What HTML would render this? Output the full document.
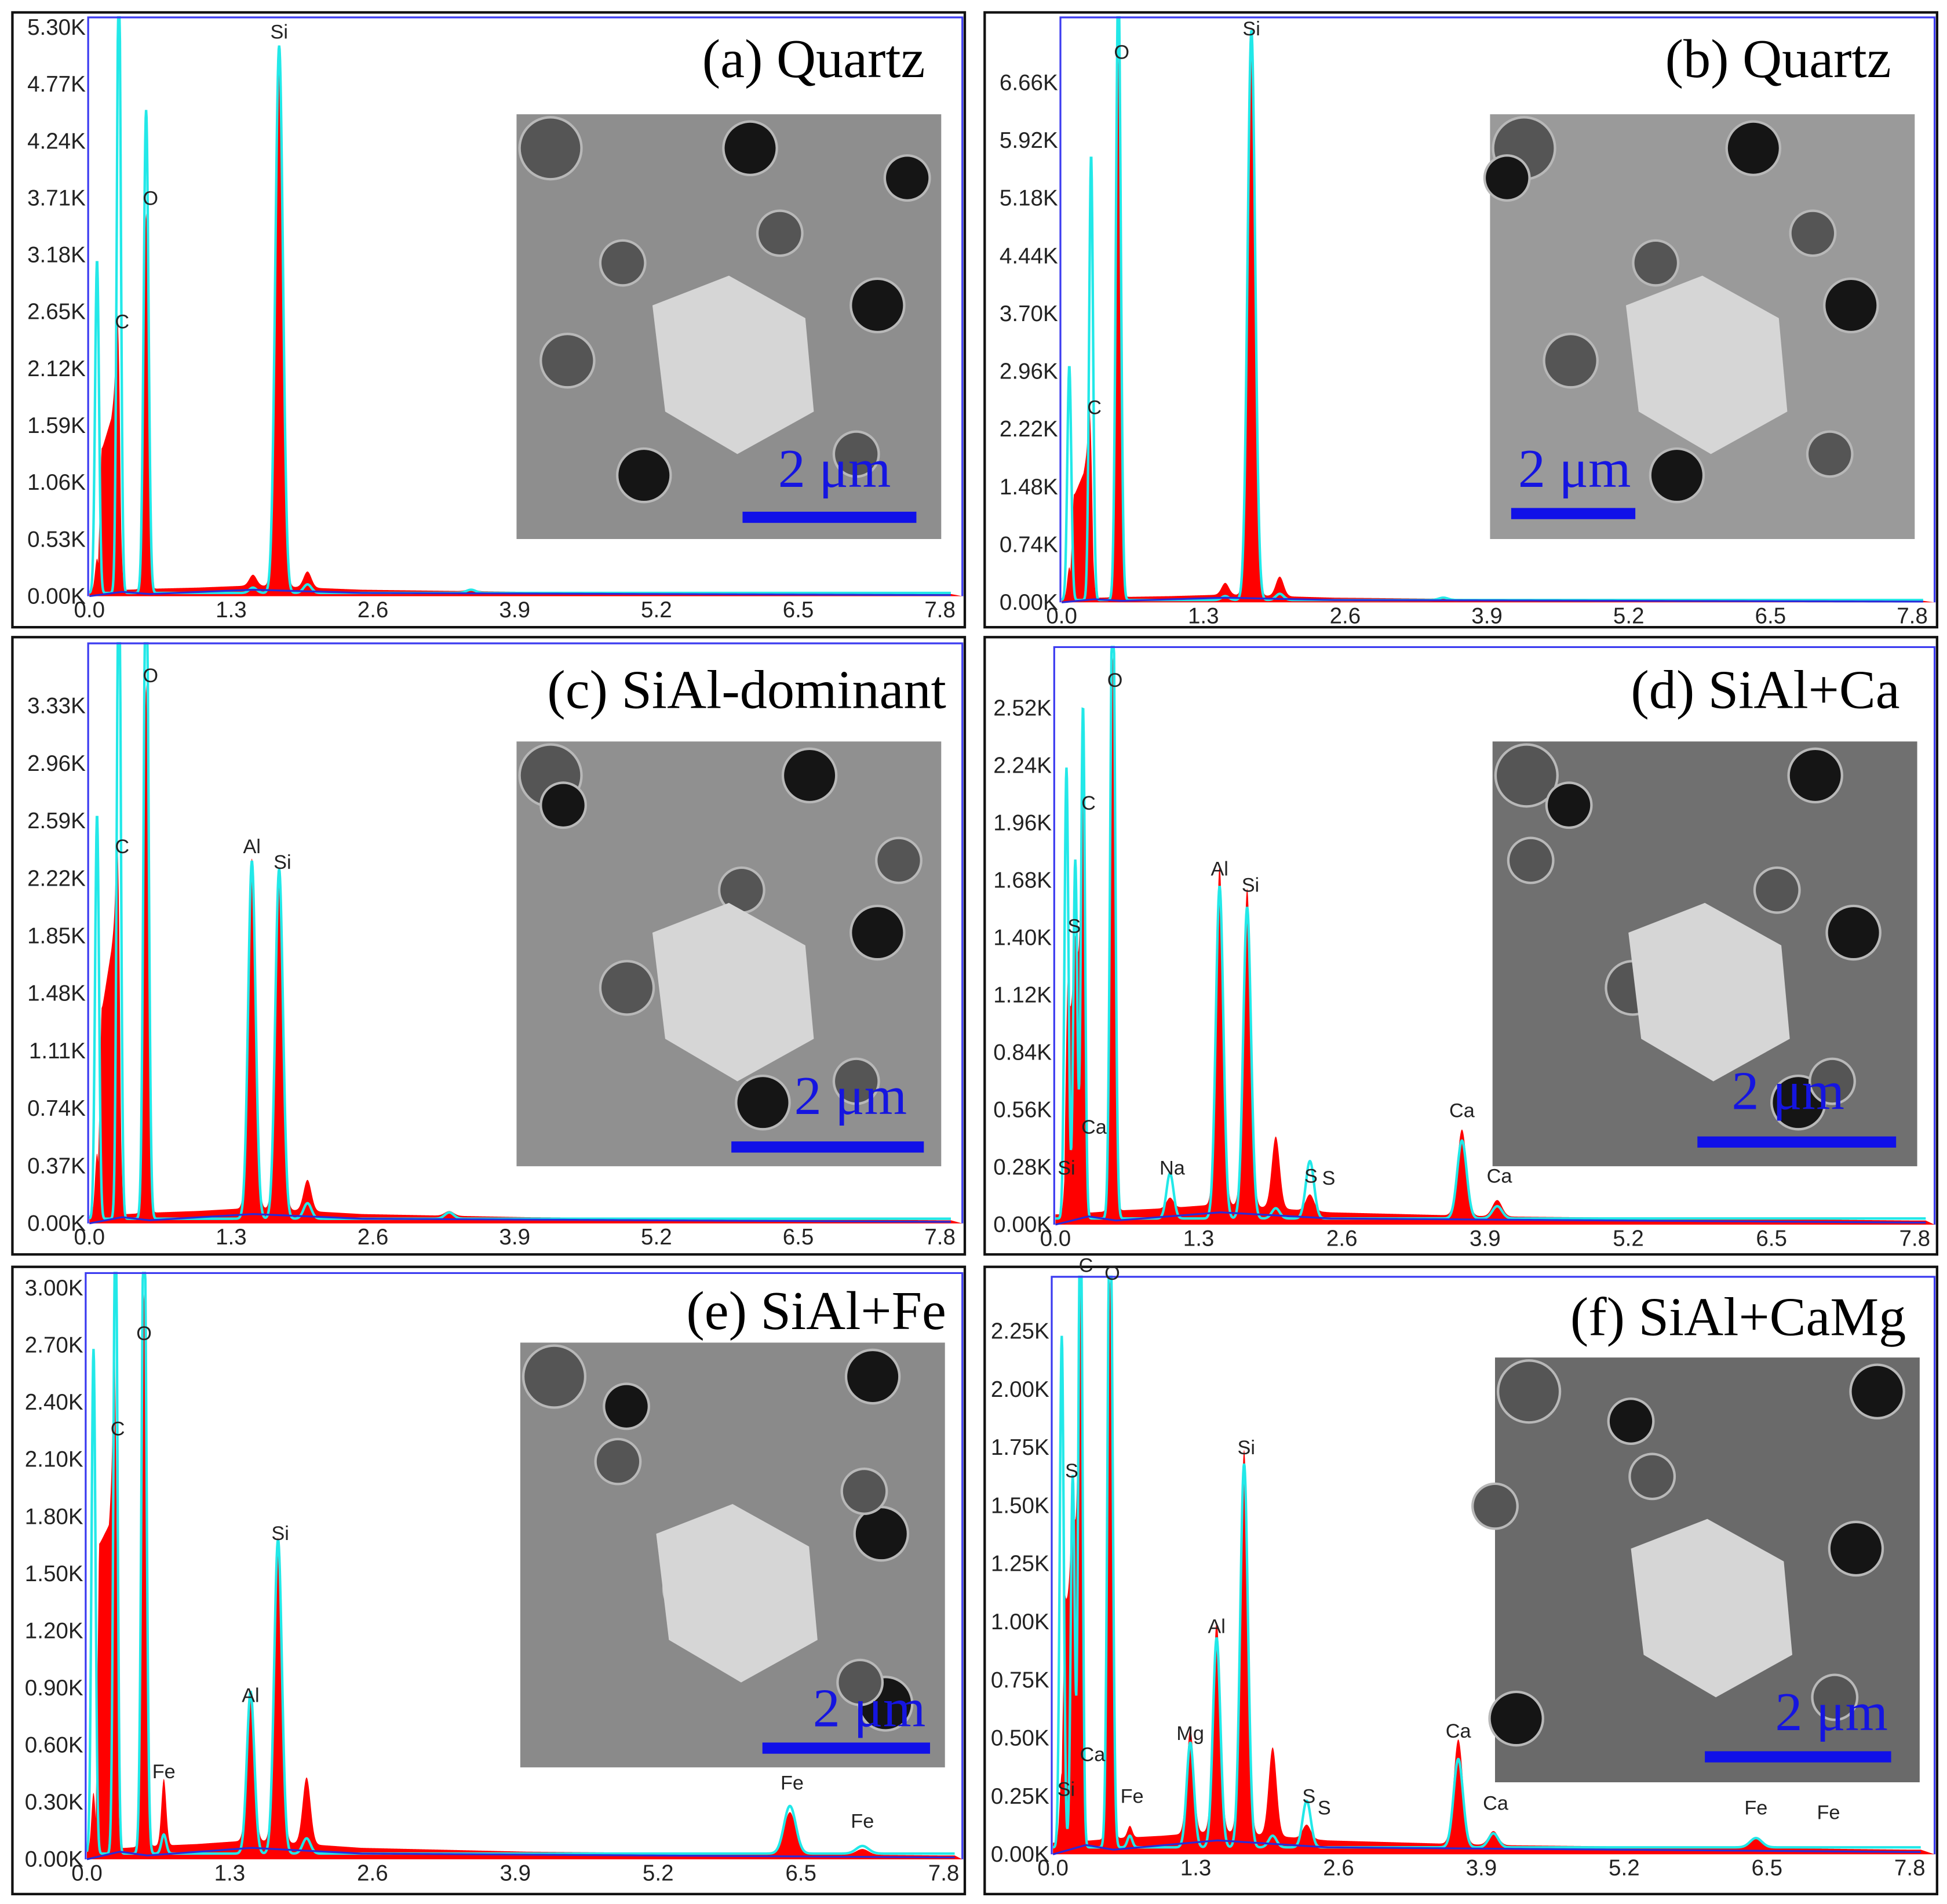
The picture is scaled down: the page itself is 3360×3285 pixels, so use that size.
<!DOCTYPE html>
<html><head><meta charset="utf-8"><style>
html,body{margin:0;padding:0;background:#fff;}
svg{display:block;}
.tk{font-family:"Liberation Sans","DejaVu Sans",sans-serif;font-size:18px;fill:#222;}
.el{font-family:"Liberation Sans","DejaVu Sans",sans-serif;font-size:16px;fill:#222;}
.ttl{font-family:"Liberation Serif",serif;font-size:44px;fill:#000;}
.sb{font-family:"Liberation Serif",serif;font-size:44px;fill:#1515e0;}
</style></head><body>
<svg id="fig" width="3360" height="3285" viewBox="0 0 1568 1533" xmlns="http://www.w3.org/2000/svg"></svg>
<script>
// ---- data (energies in keV, heights in K counts) ----
const panelTitles=["(a) Quartz","(b) Quartz","(c) SiAl-dominant","(d) SiAl+Ca","(e) SiAl+Fe","(f) SiAl+CaMg"];
const yTickLabelsA=["0.00K","0.53K","1.06K","1.59K","2.12K","2.65K","3.18K","3.71K","4.24K","4.77K","5.30K"];
const yTickLabelsB=["0.00K","0.74K","1.48K","2.22K","2.96K","3.70K","4.44K","5.18K","5.92K","6.66K"];
const yTickLabelsC=["0.00K","0.37K","0.74K","1.11K","1.48K","1.85K","2.22K","2.59K","2.96K","3.33K"];
const yTickLabelsD=["0.00K","0.28K","0.56K","0.84K","1.12K","1.40K","1.68K","1.96K","2.24K","2.52K"];
const yTickLabelsE=["0.00K","0.30K","0.60K","0.90K","1.20K","1.50K","1.80K","2.10K","2.40K","2.70K","3.00K"];
const yTickLabelsF=["0.00K","0.25K","0.50K","0.75K","1.00K","1.25K","1.50K","1.75K","2.00K","2.25K"];
const xTickLabels=["0.0","1.3","2.6","3.9","5.2","6.5","7.8"];
// peaks: energy, red height, cyan height
const peakE_A=[0.07,0.27,0.52,1.5,1.74,2.0,3.5];
const redH_A=[0.3,1.2,3.5,0.1,5.0,0.15,0.02];
const cyanH_A=[3.1,6.0,4.5,0.05,5.1,0.08,0.03];
const peakE_B=[0.07,0.27,0.52,1.5,1.74,2.0,3.5];
const redH_B=[0.4,1.0,6.9,0.15,7.1,0.25,0.02];
const cyanH_B=[3.0,5.7,8.0,0.05,7.3,0.08,0.03];
const peakE_C=[0.07,0.27,0.52,1.49,1.74,2.0,3.3];
const redH_C=[0.4,1.0,3.4,2.25,2.2,0.2,0.03];
const cyanH_C=[2.6,4.5,4.5,2.3,2.25,0.1,0.04];
const peakE_D=[0.1,0.18,0.25,0.52,1.04,1.49,1.74,2.0,2.31,3.69,4.01];
const redH_D=[0.3,0.3,0.9,2.7,0.05,1.65,1.55,0.35,0.08,0.42,0.08];
const cyanH_D=[2.2,1.75,2.5,3.2,0.22,1.62,1.52,0.05,0.28,0.38,0.06];
const peakE_E=[0.06,0.26,0.52,0.7,1.49,1.74,2.0,6.4,7.06];
const redH_E=[0.3,0.8,2.9,0.35,0.75,1.6,0.35,0.22,0.03];
const cyanH_E=[2.65,3.5,3.5,0.1,0.85,1.65,0.08,0.25,0.04];
const peakE_F=[0.08,0.18,0.25,0.52,0.7,1.25,1.49,1.74,2.0,2.31,3.69,4.01,6.4];
const redH_F=[0.3,0.3,1.2,2.4,0.05,0.45,0.9,1.65,0.38,0.06,0.45,0.06,0.04];
const cyanH_F=[2.2,1.6,3.0,3.0,0.05,0.45,0.9,1.65,0.05,0.2,0.38,0.06,0.04];
// broad low-energy substrate hump (red)
const humpE=[0.08,0.11,0.2,0.25,0.29];
const humpV_A=[0,1.3,1.6,2.0,0];
const humpV_B=[0,1.3,1.6,2.0,0];
const humpV_C=[0,1.3,1.7,2.0,0];
const humpV_D=[0,0.9,1.1,1.3,0];
const humpV_E=[0,1.6,1.7,2.1,0];
const humpV_F=[0,1.0,1.2,1.4,0];
const bgE=[0.1,0.6,1.0,1.5,2.5,4.0,7.8];
const bgV=[0.05,0.07,0.08,0.1,0.06,0.04,0.02];
const blueE=[0.0,0.3,0.55,1.5,2.5,7.8];
const blueV=[0.0,0.04,0.02,0.06,0.03,0.01];
const labels_A=[["C",0.3,2.45],["O",0.56,3.6],["Si",1.74,5.15]];
const labels_B=[["C",0.3,2.35],["O",0.55,6.9],["Si",1.74,7.2]];
const labels_C=[["C",0.3,2.35],["O",0.56,3.45],["Al",1.49,2.35],["Si",1.77,2.25]];
const labels_D=[["S",0.17,1.4],["C",0.3,2.0],["O",0.54,2.6],["Ca",0.35,0.42],["Si",0.1,0.22],["Na",1.06,0.22],["Al",1.49,1.68],["Si",1.77,1.6],["S",2.32,0.18],["S",2.48,0.17],["Ca",3.69,0.5],["Ca",4.03,0.18]];
const labels_E=[["C",0.28,2.2],["O",0.52,2.7],["Fe",0.7,0.4],["Al",1.49,0.8],["Si",1.76,1.65],["Fe",6.42,0.34],["Fe",7.06,0.14]];
const labels_F=[["C",0.3,2.55],["O",0.54,2.45],["S",0.17,1.6],["Ca",0.36,0.38],["Si",0.12,0.23],["Fe",0.72,0.2],["Mg",1.25,0.47],["Al",1.49,0.93],["Si",1.76,1.7],["S",2.33,0.2],["S",2.47,0.15],["Ca",3.69,0.48],["Ca",4.03,0.17],["Fe",6.4,0.15],["Fe",7.06,0.13]];

// ---- layout (not data) ----
const panels=[
 {bx:10,by:10,bw:767,bh:495,x0:72,x1:757,yb:480,ytop:14,step:45.8,ticks:yTickLabelsA,dv:0.53,pe:peakE_A,rh:redH_A,ch:cyanH_A,hv:humpV_A,lab:labels_A,tx:745,ty:62,ix:416,iy:92,gray:'#8e8e8e',sbx:598,sby:412,sbw:140,sty:392,stx:672},
 {bx:793,by:10,bw:767,bh:495,x0:855,x1:1540,yb:485,ytop:14,step:46.5,ticks:yTickLabelsB,dv:0.74,pe:peakE_B,rh:redH_B,ch:cyanH_B,hv:humpV_B,lab:labels_B,tx:1523,ty:62,ix:1200,iy:92,gray:'#9a9a9a',sbx:1217,sby:409,sbw:100,sty:392,stx:1268},
 {bx:10,by:513,bw:767,bh:497,x0:72,x1:757,yb:985,ytop:518,step:46.3,ticks:yTickLabelsC,dv:0.37,pe:peakE_C,rh:redH_C,ch:cyanH_C,hv:humpV_C,lab:labels_C,tx:762,ty:570,ix:416,iy:597,gray:'#909090',sbx:589,sby:919,sbw:155,sty:897,stx:685},
 {bx:793,by:513,bw:767,bh:497,x0:850,x1:1542,yb:986,ytop:521,step:46.2,ticks:yTickLabelsD,dv:0.28,pe:peakE_D,rh:redH_D,ch:cyanH_D,hv:humpV_D,lab:labels_D,tx:1530,ty:570,ix:1202,iy:597,gray:'#707070',sbx:1367,sby:915,sbw:160,sty:893,stx:1440},
 {bx:10,by:1020,bw:767,bh:505,x0:70,x1:760,yb:1497,ytop:1025,step:46,ticks:yTickLabelsE,dv:0.30,pe:peakE_E,rh:redH_E,ch:cyanH_E,hv:humpV_E,lab:labels_E,tx:762,ty:1070,ix:419,iy:1081,gray:'#8a8a8a',sbx:614,sby:1403,sbw:135,sty:1390,stx:700},
 {bx:793,by:1020,bw:767,bh:505,x0:848,x1:1538,yb:1493,ytop:1028,step:46.8,ticks:yTickLabelsF,dv:0.25,pe:peakE_F,rh:redH_F,ch:cyanH_F,hv:humpV_F,lab:labels_F,tx:1535,ty:1075,ix:1204,iy:1093,gray:'#6a6a6a',sbx:1373,sby:1410,sbw:150,sty:1393,stx:1475}
];
const svg=document.getElementById('fig');
const NS="http://www.w3.org/2000/svg";
function mk(tag,attrs,parent){const e=document.createElementNS(NS,tag);for(const k in attrs)e.setAttribute(k,attrs[k]);(parent||svg).appendChild(e);return e;}
function lin(xs,vs,x){if(x<=xs[0])return vs[0];for(let i=1;i<xs.length;i++){if(x<=xs[i]){const t=(x-xs[i-1])/(xs[i]-xs[i-1]);return vs[i-1]+t*(vs[i]-vs[i-1]);}}return vs[vs.length-1];}
function spec(pe,ph,e,bg,hv){let v=bg?lin(bgE,bgV,e):0.01;if(hv&&e>=humpE[0]&&e<=humpE[humpE.length-1])v+=lin(humpE,hv,e);for(let i=0;i<pe.length;i++){const s=pe[i]<0.3?0.018:(pe[i]<1?0.022:0.028+0.004*pe[i]);v+=ph[i]*Math.exp(-0.5*((e-pe[i])/s)**2);}return v;}
const holes=[[0.08,0.08,0.07],[0.55,0.08,0.06],[0.62,0.28,0.05],[0.85,0.45,0.06],[0.12,0.58,0.06],[0.3,0.85,0.06],[0.8,0.8,0.05],[0.92,0.15,0.05],[0.25,0.35,0.05]];
panels.forEach((p,pi)=>{
 const g=mk('g',{});
 
 
 const box=mk('rect',{x:p.bx,y:p.by,width:p.bw,height:p.bh,fill:'#fff',stroke:'#111','stroke-width':2},g);
 
 
 const sx=e=>p.x0+(e/7.8)*(p.x1-p.x0);
 const sy=v=>Math.max(p.ytop,p.yb-(v/p.dv)*p.step);
 const L=p.x0-1, R=p.bx+p.bw-2;
 let d=`M${sx(0)},${p.yb}`;
 for(let e=0;e<=7.9;e+=0.004){if(sx(e)>R)break;d+=`L${sx(e).toFixed(2)},${sy(spec(p.pe,p.rh,e,true,p.hv)).toFixed(2)}`;}
 d+=`L${R},${p.yb}Z`;
 const red=mk('path',{d:d,fill:'#ff0000',stroke:'none'},g);
 
 
 let c='';
 for(let e=0;e<=7.9;e+=0.004){if(sx(e)>R)break;c+=(c?'L':'M')+sx(e).toFixed(2)+','+sy(spec(p.pe,p.ch,e,false,null)+0.02).toFixed(2);}
 const cy=mk('path',{d:c,fill:'none',stroke:'#22e8e8','stroke-width':2},g);
 
 
 let b='';
 for(let e=0;e<=7.9;e+=0.05){if(sx(e)>R)break;b+=(b?'L':'M')+sx(e).toFixed(2)+','+sy(lin(blueE,blueV,e)).toFixed(2);}
 const bl=mk('path',{d:b,fill:'none',stroke:'#2a2ad8','stroke-width':1.5},g);
 
 
 const fr=mk('path',{d:`M${L},${p.yb}L${L},${p.ytop}L${R},${p.ytop}L${R},${p.yb}`,fill:'none',stroke:'#3b3bf0','stroke-width':1.5},g);
 
 
 p.ticks.forEach((t,i)=>{const y=p.yb-i*p.step;const tx=mk('text',{x:L-2,y:y+6,'text-anchor':'end',class:'tk'},g);tx.textContent=t;
  
  });
 xTickLabels.forEach((t,i)=>{const tx=mk('text',{x:sx(i*1.3),y:p.yb+17,'text-anchor':'middle',class:'tk'},g);tx.textContent=t;
  
  });
 p.lab.forEach(l=>{const tx=mk('text',{x:sx(l[1]),y:sy(l[2])-4,'text-anchor':'middle',class:'el'},g);tx.textContent=l[0];
  
  });
 const S=342;
 const ig=mk('g',{},g);
 
 
 mk('rect',{x:p.ix,y:p.iy,width:S,height:S,fill:p.gray},ig);
 holes.forEach((h,k)=>{const cx=p.ix+((h[0]+pi*0.07*(k%3))%0.95)*S, cyy=p.iy+h[1]*S;
  mk('circle',{cx:cx,cy:cyy,r:h[2]*S+2,fill:'#b8b8b8'},ig);
  mk('circle',{cx:cx,cy:cyy,r:h[2]*S,fill:k%2?'#151515':'#555'},ig);});
 mk('path',{d:`M${p.ix+S*0.32},${p.iy+S*0.45}L${p.ix+S*0.5},${p.iy+S*0.38}L${p.ix+S*0.68},${p.iy+S*0.48}L${p.ix+S*0.7},${p.iy+S*0.7}L${p.ix+S*0.52},${p.iy+S*0.8}L${p.ix+S*0.35},${p.iy+S*0.7}Z`,fill:'#d6d6d6'},ig);
 const bar=mk('rect',{x:p.sbx,y:p.sby,width:p.sbw,height:9,fill:'#1010e8'},g);
 
 
 const st=mk('text',{x:p.stx,y:p.sty,'text-anchor':'middle',class:'sb'},g);st.textContent='2 μm';
 
 
 const tt=mk('text',{x:p.tx,y:p.ty,'text-anchor':'end',class:'ttl'},g);tt.textContent=panelTitles[pi];
 
 
});
</script>
</body></html>
